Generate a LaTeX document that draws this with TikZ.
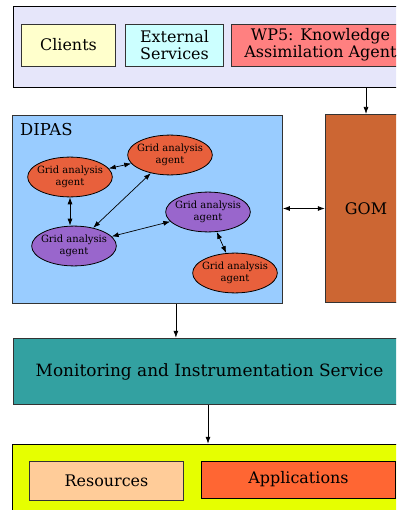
\documentclass[tikz,border=0pt]{standalone}
\usepackage{fontspec}
\setmainfont{DejaVu Serif}
\usetikzlibrary{shapes.geometric,arrows.meta}
\definecolor{lav}{HTML}{E6E6FA}
\definecolor{cli}{HTML}{FFFFCC}
\definecolor{ext}{HTML}{CCFFFF}
\definecolor{wpf}{HTML}{FF8080}
\definecolor{dip}{HTML}{99CCFF}
\definecolor{gom}{HTML}{CC6633}
\definecolor{mis}{HTML}{33A1A1}
\definecolor{yel}{HTML}{E6FF00}
\definecolor{res}{HTML}{FFCC99}
\definecolor{app}{HTML}{FF6633}
\definecolor{gor}{HTML}{E8603C}
\definecolor{gpu}{HTML}{9966CC}
\tikzset{
  box/.style={draw=black!80, line width=0.8pt, inner sep=0pt, align=center, font=\fontsize{16}{17.5}\selectfont},
  agent/.style={ellipse, draw=black, line width=0.8pt, inner xsep=-4pt, inner ysep=1pt, minimum width=85, minimum height=40, align=center, font=\fontsize{10}{12}\selectfont},
  arr/.style={-{Latex[length=7pt,width=5pt]}, line width=0.7pt},
  darr/.style={{Latex[length=7pt,width=5pt]}-{Latex[length=7pt,width=5pt]}, line width=0.7pt},
}
\begin{document}
\begin{tikzpicture}[x=1bp,y=-1bp]
\useasboundingbox (0,0) rectangle (396,510);
\clip (0,0) rectangle (396,510);
% top group
\node[box, draw=black, fill=lav, minimum width=397, minimum height=82] (top) at (211.5,47) {};
\node[box, fill=cli, minimum width=95, minimum height=42] (clients) at (68.5,45) {Clients};
\node[box, fill=ext, minimum width=99, minimum height=42] (ext) at (174.5,45) {External\\Services};
\node[box, fill=wpf, minimum width=179, minimum height=42] (wp5) at (320.5,45) {WP5: Knowledge\\Assimilation Agent};
% DIPAS
\node[box, fill=dip, minimum width=271, minimum height=189] (dipas) at (147.5,209.5) {};
\node[anchor=north west, inner sep=0pt, font=\fontsize{16.5}{18}\selectfont] (diplabel) at (20,123) {DIPAS};
\node[box, fill=gom, minimum width=82, minimum height=189] (gom) at (366,208.5) {GOM};
% agents
\node[agent, fill=gor] (e1) at (70,177) {Grid analysis\\agent};
\node[agent, fill=gor] (e2) at (170,155) {Grid analysis\\agent};
\node[agent, fill=gpu] (e3) at (74,246) {Grid analysis\\agent};
\node[agent, fill=gpu] (e4) at (208,212) {Grid analysis\\agent};
\node[agent, fill=gor] (e5) at (235,273) {Grid analysis\\agent};
\draw[darr] (e1) -- (e2);
\draw[darr] (e1.south) -- (e1.south |- e3.north);
\draw[darr] (e2) -- (e3);
\draw[darr] (e3) -- (e4);
\draw[darr] (e4) -- (e5);
% MIS
\node[box, fill=mis, minimum width=393, minimum height=67] (mis) at (209.5,371.5) {\fontsize{17}{19}\selectfont Monitoring and Instrumentation Service};
% bottom group
\node[box, draw=black, fill=yel, minimum width=392, minimum height=80] (bot) at (208,484) {};
\node[box, fill=res, minimum width=155, minimum height=39] (resn) at (106.5,480.5) {Resources};
\node[box, draw=black, fill=app, minimum width=195, minimum height=37] (appn) at (298.5,479.5) {Applications};
% connectors
\draw[arr] (top.south -| gom.north) -- (gom.north);
\draw[darr] (dipas.east |- gom.west) -- (gom.west);
\draw[arr] ([xshift=28.5]dipas.south) -- ([xshift=28.5]dipas.south |- mis.north);
\draw[arr] (mis.south -| bot.north) -- (bot.north);
\end{tikzpicture}
\end{document}
